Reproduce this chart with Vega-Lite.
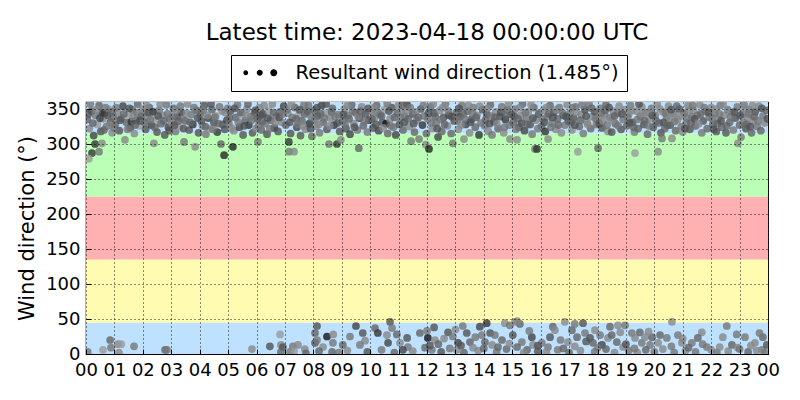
{
  "$schema": "https://vega.github.io/schema/vega-lite/v6.json",
  "width": 682,
  "height": 252,
  "autosize": {"type": "none"},
  "padding": {"left": 86, "top": 102, "right": 32, "bottom": 46},
  "background": "white",
  "title": {"text": "Latest time: 2023-04-18 00:00:00 UTC", "fontSize": 23, "font": "DejaVu Sans", "fontWeight": "normal", "anchor": "middle", "offset": 10, "color": "black"},
  "config": {
    "view": {"stroke": "black", "strokeWidth": 1.2},
    "font": "DejaVu Sans"
  },
  "layer": [
    {
      "data": {"values": [
        {"lo": 0, "hi": 45, "zone": "N1"},
        {"lo": 45, "hi": 135, "zone": "E"},
        {"lo": 135, "hi": 225, "zone": "S"},
        {"lo": 225, "hi": 315, "zone": "W"},
        {"lo": 315, "hi": 360, "zone": "N2"}
      ]},
      "mark": {"type": "rect"},
      "encoding": {
        "y": {"field": "lo", "type": "quantitative", "scale": {"domain": [0, 360], "nice": false}, "axis": {"values": [0, 50, 100, 150, 200, 250, 300, 350], "title": "Wind direction (°)", "labelPadding": 11, "titlePadding": 8, "labelOverlap": false, "labelFont": "DejaVu Sans", "labelFontSize": 18, "labelColor": "black", "titleFont": "DejaVu Sans", "titleFontSize": 21, "titleFontWeight": "normal", "titleColor": "black", "domain": false, "tickColor": "black", "tickSize": -5, "grid": true, "gridColor": "black", "gridDash": [1, 3], "gridOpacity": 0.9, "gridWidth": 1, "zindex": 1}},
        "y2": {"field": "hi"},
        "color": {"field": "zone", "type": "nominal", "scale": {"domain": ["N1", "E", "S", "W", "N2"], "range": ["#bee1ff", "#fffbb0", "#ffb0b0", "#bbffb6", "#bee1ff"]}, "legend": null}
      }
    },
    {
      "data": {"values": [
{"h":0.05,"d":335,"s":5},{"h":0.12,"d":322,"s":3},{"h":0.2,"d":347,"s":6},{"h":0.27,"d":312,"s":7},{"h":0.33,"d":341,"s":4},{"h":0.4,"d":328,"s":2},{"h":0.46,"d":355,"s":5},{"h":0.52,"d":318,"s":6},{"h":0.6,"d":336,"s":3},{"h":0.66,"d":344,"s":7},{"h":0.72,"d":325,"s":4},{"h":0.8,"d":350,"s":2},{"h":0.86,"d":331,"s":6},{"h":0.92,"d":316,"s":3},{"h":0.97,"d":339,"s":5},{"h":0.15,"d":357,"s":4},{"h":0.58,"d":345,"s":8},
{"h":0.21,"d":287,"s":8},{"h":0.46,"d":289,"s":4},{"h":0.1,"d":279,"s":2},{"h":0.32,"d":300,"s":8},{"h":0.56,"d":301,"s":3},
{"h":1.03,"d":328,"s":5},{"h":1.1,"d":346,"s":3},{"h":1.17,"d":319,"s":6},{"h":1.24,"d":337,"s":4},{"h":1.3,"d":354,"s":7},{"h":1.37,"d":306,"s":3},{"h":1.42,"d":331,"s":5},{"h":1.5,"d":342,"s":2},{"h":1.56,"d":323,"s":6},{"h":1.63,"d":349,"s":4},{"h":1.7,"d":315,"s":3},{"h":1.76,"d":334,"s":7},{"h":1.82,"d":357,"s":5},{"h":1.88,"d":326,"s":2},{"h":1.95,"d":340,"s":6},{"h":1.6,"d":332,"s":8},
{"h":2.04,"d":344,"s":4},{"h":2.1,"d":321,"s":6},{"h":2.17,"d":338,"s":3},{"h":2.23,"d":352,"s":5},{"h":2.3,"d":327,"s":7},{"h":2.39,"d":301,"s":3},{"h":2.45,"d":335,"s":2},{"h":2.5,"d":317,"s":6},{"h":2.57,"d":348,"s":4},{"h":2.64,"d":329,"s":5},{"h":2.7,"d":341,"s":3},{"h":2.77,"d":313,"s":6},{"h":2.83,"d":356,"s":4},{"h":2.9,"d":324,"s":7},{"h":2.96,"d":336,"s":5},{"h":2.35,"d":346,"s":8},
{"h":3.02,"d":330,"s":3},{"h":3.08,"d":351,"s":5},{"h":3.15,"d":318,"s":4},{"h":3.21,"d":339,"s":6},{"h":3.28,"d":325,"s":2},{"h":3.35,"d":345,"s":7},{"h":3.45,"d":303,"s":4},{"h":3.5,"d":333,"s":5},{"h":3.57,"d":357,"s":3},{"h":3.63,"d":320,"s":6},{"h":3.7,"d":342,"s":4},{"h":3.76,"d":328,"s":8},{"h":3.84,"d":296,"s":3},{"h":3.9,"d":348,"s":5},{"h":3.96,"d":316,"s":6},{"h":3.4,"d":336,"s":4},
{"h":4.03,"d":343,"s":5},{"h":4.1,"d":326,"s":3},{"h":4.16,"d":355,"s":6},{"h":4.22,"d":314,"s":4},{"h":4.3,"d":337,"s":7},{"h":4.36,"d":322,"s":2},{"h":4.43,"d":349,"s":5},{"h":4.5,"d":331,"s":6},{"h":4.56,"d":340,"s":3},{"h":4.62,"d":317,"s":8},{"h":4.7,"d":353,"s":4},{"h":4.75,"d":300,"s":5},{"h":4.82,"d":328,"s":6},{"h":4.86,"d":284,"s":9},{"h":4.9,"d":345,"s":3},{"h":4.96,"d":334,"s":7},{"h":4.46,"d":321,"s":4},
{"h":5.03,"d":329,"s":4},{"h":5.08,"d":347,"s":6},{"h":5.17,"d":296,"s":9},{"h":5.2,"d":319,"s":3},{"h":5.27,"d":338,"s":5},{"h":5.33,"d":356,"s":4},{"h":5.4,"d":324,"s":7},{"h":5.47,"d":342,"s":2},{"h":5.53,"d":313,"s":6},{"h":5.6,"d":333,"s":5},{"h":5.66,"d":350,"s":3},{"h":5.73,"d":327,"s":8},{"h":5.8,"d":339,"s":4},{"h":5.86,"d":316,"s":6},{"h":5.93,"d":345,"s":5},{"h":5.98,"d":322,"s":3},
{"h":6.03,"d":336,"s":6},{"h":6.05,"d":303,"s":4},{"h":6.1,"d":352,"s":3},{"h":6.17,"d":320,"s":5},{"h":6.23,"d":343,"s":7},{"h":6.3,"d":329,"s":4},{"h":6.37,"d":314,"s":6},{"h":6.43,"d":348,"s":2},{"h":6.5,"d":334,"s":5},{"h":6.56,"d":357,"s":3},{"h":6.63,"d":323,"s":8},{"h":6.7,"d":340,"s":4},{"h":6.76,"d":318,"s":6},{"h":6.83,"d":346,"s":5},{"h":6.9,"d":331,"s":3},{"h":6.96,"d":354,"s":7},
{"h":7.03,"d":327,"s":5},{"h":7.1,"d":344,"s":3},{"h":7.14,"d":289,"s":4},{"h":7.14,"d":303,"s":8},{"h":7.2,"d":315,"s":6},{"h":7.26,"d":338,"s":4},{"h":7.32,"d":289,"s":3},{"h":7.35,"d":352,"s":5},{"h":7.42,"d":324,"s":7},{"h":7.48,"d":341,"s":2},{"h":7.55,"d":312,"s":6},{"h":7.6,"d":333,"s":5},{"h":7.67,"d":356,"s":4},{"h":7.73,"d":321,"s":3},{"h":7.8,"d":347,"s":6},{"h":7.86,"d":329,"s":8},{"h":7.93,"d":338,"s":4},{"h":7.95,"d":311,"s":5},
{"h":8.03,"d":348,"s":5},{"h":8.1,"d":325,"s":3},{"h":8.16,"d":340,"s":6},{"h":8.22,"d":316,"s":4},{"h":8.29,"d":355,"s":7},{"h":8.35,"d":331,"s":5},{"h":8.42,"d":344,"s":2},{"h":8.48,"d":321,"s":6},{"h":8.55,"d":300,"s":4},{"h":8.6,"d":337,"s":3},{"h":8.67,"d":351,"s":5},{"h":8.73,"d":327,"s":8},{"h":8.83,"d":300,"s":8},{"h":8.88,"d":342,"s":4},{"h":8.93,"d":318,"s":6},{"h":8.97,"d":306,"s":3},
{"h":9.03,"d":333,"s":5},{"h":9.09,"d":350,"s":3},{"h":9.15,"d":322,"s":6},{"h":9.22,"d":341,"s":4},{"h":9.29,"d":314,"s":7},{"h":9.35,"d":356,"s":5},{"h":9.42,"d":329,"s":3},{"h":9.48,"d":345,"s":6},{"h":9.55,"d":320,"s":4},{"h":9.6,"d":294,"s":5},{"h":9.62,"d":337,"s":8},{"h":9.7,"d":353,"s":3},{"h":9.76,"d":326,"s":5},{"h":9.83,"d":343,"s":6},{"h":9.9,"d":317,"s":4},{"h":9.96,"d":334,"s":7},
{"h":10.03,"d":347,"s":4},{"h":10.1,"d":323,"s":6},{"h":10.16,"d":338,"s":3},{"h":10.23,"d":355,"s":5},{"h":10.3,"d":319,"s":7},{"h":10.36,"d":342,"s":4},{"h":10.43,"d":331,"s":6},{"h":10.5,"d":349,"s":2},{"h":10.56,"d":329,"s":10},{"h":10.62,"d":315,"s":5},{"h":10.7,"d":336,"s":3},{"h":10.76,"d":352,"s":6},{"h":10.82,"d":324,"s":4},{"h":10.9,"d":313,"s":7},{"h":10.95,"d":344,"s":5},{"h":10.6,"d":358,"s":4},
{"h":11.03,"d":328,"s":6},{"h":11.1,"d":346,"s":3},{"h":11.16,"d":320,"s":5},{"h":11.23,"d":339,"s":4},{"h":11.3,"d":356,"s":7},{"h":11.37,"d":325,"s":3},{"h":11.44,"d":304,"s":4},{"h":11.5,"d":343,"s":6},{"h":11.56,"d":317,"s":5},{"h":11.63,"d":334,"s":3},{"h":11.72,"d":307,"s":4},{"h":11.78,"d":350,"s":6},{"h":11.84,"d":327,"s":8},{"h":11.9,"d":340,"s":4},{"h":11.96,"d":299,"s":3},{"h":11.98,"d":315,"s":5},
{"h":12.03,"d":336,"s":4},{"h":12.07,"d":293,"s":9},{"h":12.12,"d":353,"s":5},{"h":12.18,"d":322,"s":3},{"h":12.25,"d":344,"s":6},{"h":12.32,"d":330,"s":4},{"h":12.39,"d":310,"s":7},{"h":12.45,"d":348,"s":3},{"h":12.52,"d":318,"s":5},{"h":12.58,"d":338,"s":6},{"h":12.65,"d":357,"s":4},{"h":12.72,"d":326,"s":3},{"h":12.78,"d":341,"s":7},{"h":12.85,"d":315,"s":5},{"h":12.91,"d":301,"s":4},{"h":12.96,"d":333,"s":6},
{"h":13.03,"d":345,"s":5},{"h":13.1,"d":321,"s":3},{"h":13.16,"d":339,"s":6},{"h":13.23,"d":355,"s":4},{"h":13.3,"d":307,"s":3},{"h":13.36,"d":328,"s":7},{"h":13.43,"d":347,"s":5},{"h":13.5,"d":316,"s":3},{"h":13.56,"d":335,"s":6},{"h":13.63,"d":352,"s":4},{"h":13.7,"d":324,"s":5},{"h":13.76,"d":341,"s":3},{"h":13.83,"d":313,"s":8},{"h":13.9,"d":330,"s":4},{"h":13.96,"d":349,"s":6},
{"h":14.03,"d":326,"s":4},{"h":14.1,"d":343,"s":6},{"h":14.16,"d":318,"s":3},{"h":14.23,"d":356,"s":5},{"h":14.29,"d":313,"s":4},{"h":14.36,"d":332,"s":7},{"h":14.42,"d":346,"s":3},{"h":14.5,"d":322,"s":5},{"h":14.56,"d":339,"s":6},{"h":14.63,"d":353,"s":4},{"h":14.7,"d":316,"s":3},{"h":14.76,"d":335,"s":8},{"h":14.83,"d":349,"s":5},{"h":14.9,"d":327,"s":4},{"h":14.92,"d":307,"s":3},{"h":14.97,"d":342,"s":6},
{"h":15.03,"d":331,"s":5},{"h":15.1,"d":350,"s":4},{"h":15.17,"d":306,"s":3},{"h":15.23,"d":324,"s":6},{"h":15.3,"d":341,"s":3},{"h":15.36,"d":357,"s":5},{"h":15.43,"d":319,"s":7},{"h":15.5,"d":337,"s":4},{"h":15.56,"d":346,"s":3},{"h":15.63,"d":328,"s":6},{"h":15.7,"d":314,"s":4},{"h":15.76,"d":352,"s":5},{"h":15.8,"d":293,"s":4},{"h":15.87,"d":293,"s":8},{"h":15.83,"d":334,"s":3},{"h":15.93,"d":343,"s":6},
{"h":16.03,"d":325,"s":5},{"h":16.1,"d":348,"s":3},{"h":16.16,"d":318,"s":8},{"h":16.23,"d":339,"s":4},{"h":16.26,"d":307,"s":3},{"h":16.33,"d":355,"s":5},{"h":16.4,"d":330,"s":4},{"h":16.46,"d":345,"s":6},{"h":16.53,"d":321,"s":3},{"h":16.6,"d":336,"s":5},{"h":16.66,"d":352,"s":4},{"h":16.73,"d":316,"s":3},{"h":16.8,"d":341,"s":6},{"h":16.86,"d":327,"s":4},{"h":16.93,"d":356,"s":3},{"h":16.97,"d":333,"s":5},
{"h":17.03,"d":344,"s":4},{"h":17.1,"d":320,"s":3},{"h":17.16,"d":337,"s":6},{"h":17.23,"d":353,"s":4},{"h":17.31,"d":289,"s":2},{"h":17.36,"d":325,"s":5},{"h":17.43,"d":342,"s":3},{"h":17.5,"d":315,"s":4},{"h":17.56,"d":349,"s":6},{"h":17.63,"d":331,"s":3},{"h":17.7,"d":357,"s":4},{"h":17.76,"d":322,"s":5},{"h":17.83,"d":339,"s":3},{"h":17.9,"d":346,"s":6},{"h":17.96,"d":328,"s":4},
{"h":18.02,"d":294,"s":5},{"h":18.03,"d":336,"s":3},{"h":18.1,"d":351,"s":4},{"h":18.16,"d":323,"s":6},{"h":18.23,"d":342,"s":3},{"h":18.3,"d":356,"s":5},{"h":18.37,"d":318,"s":3},{"h":18.44,"d":338,"s":4},{"h":18.5,"d":317,"s":6},{"h":18.56,"d":347,"s":3},{"h":18.63,"d":329,"s":5},{"h":18.7,"d":344,"s":4},{"h":18.76,"d":354,"s":3},{"h":18.83,"d":321,"s":6},{"h":18.9,"d":335,"s":4},{"h":18.96,"d":349,"s":3},
{"h":19.03,"d":326,"s":5},{"h":19.1,"d":343,"s":3},{"h":19.16,"d":355,"s":4},{"h":19.23,"d":331,"s":6},{"h":19.3,"d":317,"s":4},{"h":19.32,"d":287,"s":2},{"h":19.37,"d":347,"s":3},{"h":19.43,"d":322,"s":5},{"h":19.5,"d":339,"s":4},{"h":19.56,"d":353,"s":3},{"h":19.63,"d":328,"s":6},{"h":19.7,"d":345,"s":4},{"h":19.76,"d":314,"s":5},{"h":19.83,"d":336,"s":3},{"h":19.9,"d":351,"s":4},{"h":19.96,"d":324,"s":6},
{"h":20.03,"d":341,"s":4},{"h":20.1,"d":357,"s":3},{"h":20.13,"d":289,"s":3},{"h":20.17,"d":330,"s":5},{"h":20.23,"d":316,"s":6},{"h":20.27,"d":308,"s":4},{"h":20.3,"d":346,"s":3},{"h":20.37,"d":322,"s":5},{"h":20.43,"d":338,"s":4},{"h":20.5,"d":354,"s":3},{"h":20.56,"d":327,"s":6},{"h":20.62,"d":308,"s":3},{"h":20.68,"d":343,"s":4},{"h":20.75,"d":319,"s":5},{"h":20.82,"d":335,"s":3},{"h":20.88,"d":350,"s":6},{"h":20.95,"d":325,"s":4},
{"h":21.0,"d":317,"s":3},{"h":21.05,"d":344,"s":5},{"h":21.12,"d":330,"s":4},{"h":21.18,"d":355,"s":3},{"h":21.25,"d":321,"s":6},{"h":21.32,"d":339,"s":4},{"h":21.38,"d":348,"s":3},{"h":21.45,"d":326,"s":5},{"h":21.52,"d":341,"s":4},{"h":21.6,"d":356,"s":3},{"h":21.67,"d":316,"s":4},{"h":21.72,"d":333,"s":6},{"h":21.8,"d":347,"s":3},{"h":21.86,"d":322,"s":5},{"h":21.93,"d":338,"s":4},
{"h":22.0,"d":352,"s":3},{"h":22.06,"d":328,"s":5},{"h":22.12,"d":344,"s":4},{"h":22.18,"d":318,"s":6},{"h":22.25,"d":335,"s":3},{"h":22.32,"d":355,"s":4},{"h":22.38,"d":324,"s":5},{"h":22.45,"d":341,"s":3},{"h":22.52,"d":316,"s":6},{"h":22.58,"d":349,"s":4},{"h":22.65,"d":331,"s":5},{"h":22.72,"d":345,"s":3},{"h":22.78,"d":320,"s":4},{"h":22.85,"d":337,"s":6},{"h":22.94,"d":301,"s":3},{"h":22.92,"d":353,"s":4},
{"h":23.0,"d":327,"s":5},{"h":23.05,"d":310,"s":4},{"h":23.1,"d":343,"s":3},{"h":23.16,"d":356,"s":4},{"h":23.22,"d":322,"s":6},{"h":23.28,"d":338,"s":3},{"h":23.35,"d":349,"s":4},{"h":23.42,"d":316,"s":5},{"h":23.48,"d":333,"s":3},{"h":23.55,"d":346,"s":6},{"h":23.62,"d":325,"s":4},{"h":23.68,"d":354,"s":3},{"h":23.75,"d":319,"s":5},{"h":23.82,"d":340,"s":4},{"h":23.88,"d":330,"s":3},{"h":23.95,"d":348,"s":5},{"h":23.98,"d":336,"s":6},
{"h":0.08,"d":343,"s":6},{"h":0.24,"d":330,"s":5},{"h":0.37,"d":349,"s":3},{"h":0.49,"d":337,"s":7},{"h":0.63,"d":320,"s":5},{"h":0.69,"d":352,"s":4},{"h":0.76,"d":341,"s":6},{"h":0.83,"d":327,"s":3},{"h":0.9,"d":346,"s":5},{"h":0.99,"d":323,"s":4},
{"h":1.06,"d":352,"s":4},{"h":1.2,"d":334,"s":6},{"h":1.33,"d":343,"s":5},{"h":1.46,"d":321,"s":4},{"h":1.53,"d":351,"s":6},{"h":1.66,"d":339,"s":3},{"h":1.73,"d":327,"s":5},{"h":1.79,"d":345,"s":4},{"h":1.91,"d":333,"s":6},{"h":1.99,"d":350,"s":3},
{"h":2.07,"d":331,"s":5},{"h":2.14,"d":355,"s":3},{"h":2.2,"d":345,"s":6},{"h":2.27,"d":335,"s":4},{"h":2.42,"d":324,"s":5},{"h":2.54,"d":340,"s":6},{"h":2.61,"d":357,"s":3},{"h":2.74,"d":333,"s":5},{"h":2.87,"d":343,"s":4},{"h":2.93,"d":319,"s":6},
{"h":3.05,"d":340,"s":4},{"h":3.12,"d":327,"s":6},{"h":3.18,"d":348,"s":3},{"h":3.25,"d":333,"s":5},{"h":3.32,"d":354,"s":4},{"h":3.43,"d":322,"s":6},{"h":3.54,"d":344,"s":3},{"h":3.67,"d":331,"s":5},{"h":3.8,"d":352,"s":4},{"h":3.93,"d":337,"s":6},
{"h":4.06,"d":333,"s":6},{"h":4.13,"d":348,"s":4},{"h":4.2,"d":325,"s":5},{"h":4.27,"d":341,"s":3},{"h":4.4,"d":357,"s":6},{"h":4.53,"d":338,"s":4},{"h":4.66,"d":329,"s":5},{"h":4.79,"d":347,"s":3},{"h":4.88,"d":321,"s":6},{"h":4.99,"d":351,"s":4},
{"h":5.05,"d":337,"s":5},{"h":5.12,"d":323,"s":3},{"h":5.23,"d":351,"s":6},{"h":5.36,"d":331,"s":4},{"h":5.44,"d":345,"s":5},{"h":5.57,"d":326,"s":6},{"h":5.64,"d":341,"s":3},{"h":5.7,"d":357,"s":5},{"h":5.83,"d":334,"s":4},{"h":5.96,"d":348,"s":6},
{"h":6.07,"d":326,"s":4},{"h":6.14,"d":341,"s":6},{"h":6.2,"d":332,"s":5},{"h":6.27,"d":355,"s":3},{"h":6.4,"d":337,"s":6},{"h":6.47,"d":322,"s":4},{"h":6.6,"d":345,"s":5},{"h":6.66,"d":330,"s":3},{"h":6.8,"d":338,"s":6},{"h":6.93,"d":343,"s":4},
{"h":7.06,"d":349,"s":4},{"h":7.17,"d":331,"s":6},{"h":7.23,"d":357,"s":3},{"h":7.39,"d":336,"s":5},{"h":7.45,"d":328,"s":4},{"h":7.52,"d":349,"s":6},{"h":7.63,"d":326,"s":3},{"h":7.7,"d":343,"s":5},{"h":7.83,"d":355,"s":4},{"h":7.9,"d":322,"s":6},
{"h":8.06,"d":335,"s":4},{"h":8.13,"d":352,"s":6},{"h":8.19,"d":328,"s":3},{"h":8.26,"d":343,"s":5},{"h":8.39,"d":337,"s":4},{"h":8.45,"d":357,"s":6},{"h":8.58,"d":326,"s":3},{"h":8.64,"d":346,"s":5},{"h":8.77,"d":339,"s":4},{"h":8.85,"d":330,"s":6},
{"h":9.06,"d":342,"s":6},{"h":9.12,"d":327,"s":4},{"h":9.19,"d":355,"s":3},{"h":9.26,"d":336,"s":5},{"h":9.38,"d":347,"s":4},{"h":9.45,"d":324,"s":6},{"h":9.58,"d":339,"s":3},{"h":9.66,"d":347,"s":5},{"h":9.79,"d":333,"s":4},{"h":9.93,"d":351,"s":6},
{"h":10.06,"d":336,"s":5},{"h":10.13,"d":352,"s":3},{"h":10.2,"d":328,"s":6},{"h":10.27,"d":345,"s":4},{"h":10.4,"d":340,"s":5},{"h":10.46,"d":323,"s":3},{"h":10.66,"d":347,"s":6},{"h":10.73,"d":326,"s":4},{"h":10.86,"d":338,"s":5},{"h":10.99,"d":355,"s":3},
{"h":11.06,"d":338,"s":4},{"h":11.13,"d":355,"s":5},{"h":11.2,"d":331,"s":6},{"h":11.27,"d":347,"s":3},{"h":11.34,"d":336,"s":5},{"h":11.41,"d":352,"s":4},{"h":11.53,"d":329,"s":6},{"h":11.6,"d":346,"s":3},{"h":11.69,"d":338,"s":5},{"h":11.87,"d":355,"s":4},
{"h":12.05,"d":344,"s":6},{"h":12.15,"d":330,"s":4},{"h":12.22,"d":357,"s":3},{"h":12.29,"d":339,"s":5},{"h":12.36,"d":322,"s":6},{"h":12.49,"d":335,"s":4},{"h":12.55,"d":352,"s":3},{"h":12.62,"d":328,"s":5},{"h":12.75,"d":347,"s":4},{"h":12.88,"d":339,"s":6},
{"h":13.06,"d":333,"s":4},{"h":13.13,"d":351,"s":6},{"h":13.2,"d":327,"s":3},{"h":13.27,"d":343,"s":5},{"h":13.33,"d":336,"s":4},{"h":13.46,"d":355,"s":3},{"h":13.53,"d":331,"s":6},{"h":13.6,"d":344,"s":4},{"h":13.73,"d":338,"s":5},{"h":13.86,"d":354,"s":3},
{"h":14.06,"d":335,"s":5},{"h":14.13,"d":351,"s":3},{"h":14.2,"d":329,"s":6},{"h":14.26,"d":340,"s":4},{"h":14.39,"d":338,"s":5},{"h":14.46,"d":329,"s":3},{"h":14.6,"d":345,"s":6},{"h":14.73,"d":324,"s":4},{"h":14.8,"d":340,"s":5},{"h":14.87,"d":357,"s":3},
{"h":15.06,"d":340,"s":6},{"h":15.13,"d":321,"s":4},{"h":15.2,"d":336,"s":5},{"h":15.27,"d":352,"s":3},{"h":15.33,"d":330,"s":6},{"h":15.46,"d":345,"s":4},{"h":15.53,"d":328,"s":5},{"h":15.66,"d":356,"s":3},{"h":15.73,"d":337,"s":6},{"h":15.9,"d":322,"s":4},
{"h":16.06,"d":336,"s":4},{"h":16.13,"d":331,"s":6},{"h":16.2,"d":352,"s":3},{"h":16.29,"d":343,"s":5},{"h":16.36,"d":324,"s":4},{"h":16.43,"d":338,"s":6},{"h":16.56,"d":349,"s":3},{"h":16.63,"d":327,"s":5},{"h":16.76,"d":345,"s":4},{"h":16.9,"d":339,"s":6},
{"h":17.06,"d":331,"s":5},{"h":17.13,"d":352,"s":4},{"h":17.2,"d":327,"s":6},{"h":17.26,"d":345,"s":3},{"h":17.4,"d":334,"s":5},{"h":17.46,"d":356,"s":4},{"h":17.6,"d":340,"s":6},{"h":17.66,"d":328,"s":3},{"h":17.8,"d":351,"s":5},{"h":17.93,"d":336,"s":4},
{"h":18.06,"d":329,"s":6},{"h":18.13,"d":344,"s":4},{"h":18.2,"d":333,"s":3},{"h":18.27,"d":348,"s":5},{"h":18.34,"d":327,"s":4},{"h":18.41,"d":352,"s":6},{"h":18.53,"d":334,"s":3},{"h":18.6,"d":340,"s":5},{"h":18.73,"d":326,"s":4},{"h":18.86,"d":343,"s":6},
{"h":19.06,"d":338,"s":4},{"h":19.13,"d":330,"s":6},{"h":19.2,"d":348,"s":3},{"h":19.27,"d":324,"s":5},{"h":19.4,"d":335,"s":4},{"h":19.46,"d":357,"s":6},{"h":19.6,"d":343,"s":3},{"h":19.66,"d":333,"s":5},{"h":19.8,"d":326,"s":4},{"h":19.93,"d":341,"s":6},
{"h":20.06,"d":333,"s":5},{"h":20.2,"d":350,"s":3},{"h":20.33,"d":331,"s":6},{"h":20.4,"d":344,"s":4},{"h":20.46,"d":327,"s":5},{"h":20.53,"d":338,"s":3},{"h":20.59,"d":349,"s":6},{"h":20.72,"d":332,"s":4},{"h":20.79,"d":354,"s":5},{"h":20.92,"d":340,"s":3},
{"h":21.08,"d":322,"s":6},{"h":21.15,"d":337,"s":4},{"h":21.22,"d":348,"s":3},{"h":21.29,"d":330,"s":5},{"h":21.35,"d":355,"s":4},{"h":21.42,"d":336,"s":6},{"h":21.56,"d":329,"s":3},{"h":21.63,"d":343,"s":5},{"h":21.76,"d":352,"s":4},{"h":21.9,"d":345,"s":6},
{"h":22.03,"d":337,"s":4},{"h":22.09,"d":321,"s":6},{"h":22.15,"d":350,"s":3},{"h":22.22,"d":329,"s":5},{"h":22.29,"d":343,"s":4},{"h":22.35,"d":333,"s":6},{"h":22.42,"d":357,"s":3},{"h":22.55,"d":326,"s":5},{"h":22.68,"d":339,"s":4},{"h":22.82,"d":346,"s":6},
{"h":23.03,"d":341,"s":6},{"h":23.13,"d":331,"s":4},{"h":23.19,"d":349,"s":3},{"h":23.25,"d":328,"s":5},{"h":23.32,"d":343,"s":4},{"h":23.38,"d":325,"s":6},{"h":23.45,"d":355,"s":3},{"h":23.52,"d":339,"s":5},{"h":23.65,"d":333,"s":4},{"h":23.78,"d":351,"s":6},
{"h":0.06,"d":3,"s":4},{"h":0.6,"d":6,"s":2},{"h":0.85,"d":20,"s":5},{"h":0.88,"d":9,"s":4},{"h":1.12,"d":14,"s":3},{"h":1.24,"d":14,"s":2},{"h":1.16,"d":2,"s":3},{"h":1.69,"d":11,"s":4},{"h":2.78,"d":6,"s":5},{"h":2.85,"d":6,"s":4},{"h":5.84,"d":7,"s":3},{"h":6.47,"d":11,"s":6},{"h":6.83,"d":28,"s":2},{"h":6.86,"d":13,"s":3},{"h":6.93,"d":10,"s":6},{"h":6.86,"d":3,"s":5},{"h":7.28,"d":11,"s":4},{"h":7.46,"d":13,"s":3},{"h":7.18,"d":3,"s":4},{"h":7.32,"d":4,"s":2},{"h":7.7,"d":7,"s":3},{"h":7.74,"d":1,"s":5},{"h":8.06,"d":30,"s":5},{"h":8.06,"d":16,"s":6},
{"h":8.13,"d":40,"s":6},{"h":8.13,"d":20,"s":4},{"h":8.34,"d":10,"s":3},{"h":8.48,"d":25,"s":10},{"h":8.69,"d":16,"s":4},{"h":8.66,"d":3,"s":5},{"h":8.7,"d":28,"s":3},{"h":9.5,"d":40,"s":7},{"h":9.29,"d":25,"s":4},{"h":9.04,"d":13,"s":5},{"h":9.74,"d":30,"s":6},{"h":9.82,"d":19,"s":3},{"h":9.64,"d":13,"s":4},{"h":10.17,"d":37,"s":5},{"h":10.27,"d":30,"s":8},{"h":10.59,"d":27,"s":3},{"h":10.7,"d":46,"s":6},{"h":10.77,"d":37,"s":4},{"h":10.63,"d":16,"s":7},{"h":10.94,"d":28,"s":5},{"h":11.05,"d":16,"s":3},{"h":11.3,"d":23,"s":6},{"h":11.33,"d":10,"s":4},{"h":11.15,"d":6,"s":7},{"h":11.75,"d":30,"s":5},{"h":12.03,"d":23,"s":10},{"h":12.0,"d":33,"s":4},{"h":12.25,"d":38,"s":6},{"h":12.28,"d":20,"s":3},{"h":11.93,"d":9,"s":5},{"h":12.17,"d":6,"s":4},{"h":12.74,"d":31,"s":6},{"h":12.91,"d":25,"s":4},{"h":13.09,"d":16,"s":7},{"h":13.05,"d":6,"s":3},{"h":13.26,"d":40,"s":4},{"h":13.4,"d":30,"s":6},{"h":13.51,"d":17,"s":5},{"h":13.62,"d":9,"s":3},{"h":13.86,"d":39,"s":7},{"h":13.93,"d":27,"s":4},{"h":14.1,"d":44,"s":8},{"h":14.04,"d":17,"s":5},{"h":14.29,"d":13,"s":3},{"h":14.22,"d":30,"s":6},{"h":14.39,"d":27,"s":4},{"h":14.64,"d":20,"s":5},{"h":14.74,"d":44,"s":3},{"h":14.92,"d":41,"s":4},{"h":15.1,"d":46,"s":3},{"h":15.27,"d":43,"s":5},{"h":15.17,"d":47,"s":3},{"h":15.02,"d":27,"s":6},{"h":15.34,"d":17,"s":4},{"h":15.17,"d":10,"s":5},{"h":15.69,"d":24,"s":7},{"h":15.73,"d":13,"s":3},{"h":15.52,"d":6,"s":5},
{"h":16.04,"d":16,"s":4},{"h":16.33,"d":24,"s":6},{"h":16.43,"d":39,"s":5},{"h":16.5,"d":34,"s":3},{"h":16.26,"d":10,"s":4},{"h":16.85,"d":46,"s":3},{"h":17.1,"d":34,"s":5},{"h":17.2,"d":43,"s":4},{"h":17.49,"d":44,"s":6},{"h":16.96,"d":17,"s":3},{"h":17.28,"d":24,"s":5},{"h":17.56,"d":30,"s":4},{"h":17.74,"d":23,"s":6},{"h":17.91,"d":34,"s":3},{"h":17.84,"d":16,"s":5},{"h":18.09,"d":27,"s":4},{"h":18.16,"d":13,"s":7},{"h":18.37,"d":23,"s":3},{"h":18.44,"d":39,"s":5},{"h":18.72,"d":41,"s":3},{"h":18.97,"d":41,"s":4},{"h":18.68,"d":17,"s":5},{"h":18.9,"d":10,"s":3},{"h":19.21,"d":30,"s":4},{"h":19.32,"d":23,"s":3},{"h":19.49,"d":31,"s":5},{"h":19.56,"d":16,"s":4},{"h":19.67,"d":24,"s":3},{"h":19.92,"d":24,"s":5},{"h":19.85,"d":13,"s":4},{"h":20.13,"d":16,"s":3},{"h":20.44,"d":23,"s":4},{"h":20.62,"d":46,"s":3},{"h":20.83,"d":27,"s":4},{"h":20.97,"d":16,"s":3},{"h":21.32,"d":16,"s":4},{"h":21.67,"d":31,"s":3},{"h":21.53,"d":23,"s":5},{"h":21.85,"d":10,"s":4},{"h":22.41,"d":24,"s":3},{"h":22.55,"d":40,"s":4},{"h":22.73,"d":13,"s":5},{"h":22.94,"d":9,"s":3},{"h":23.19,"d":24,"s":4},{"h":23.54,"d":16,"s":3},{"h":23.82,"d":24,"s":5},{"h":23.79,"d":6,"s":4},{"h":23.96,"d":13,"s":6},
{"h":8.2,"d":4,"s":5},{"h":8.9,"d":2,"s":4},{"h":9.2,"d":5,"s":3},{"h":9.9,"d":3,"s":6},{"h":10.4,"d":6,"s":4},{"h":10.85,"d":2,"s":5},{"h":11.5,"d":4,"s":3},{"h":12.5,"d":3,"s":6},{"h":12.8,"d":8,"s":4},{"h":13.3,"d":2,"s":5},{"h":13.8,"d":5,"s":3},{"h":14.45,"d":3,"s":4},{"h":14.8,"d":7,"s":5},{"h":15.4,"d":2,"s":3},{"h":15.9,"d":4,"s":6},{"h":16.2,"d":3,"s":3},{"h":16.6,"d":6,"s":4},{"h":17.0,"d":2,"s":5},{"h":17.4,"d":5,"s":3},{"h":17.9,"d":3,"s":4},{"h":18.3,"d":7,"s":5},{"h":18.6,"d":2,"s":3},{"h":19.1,"d":5,"s":4},{"h":19.4,"d":2,"s":3},{"h":19.7,"d":6,"s":5},{"h":20.0,"d":3,"s":4},{"h":20.3,"d":7,"s":3},{"h":20.7,"d":2,"s":4},{"h":21.1,"d":5,"s":3},{"h":21.45,"d":3,"s":4},{"h":22.0,"d":6,"s":3},{"h":22.2,"d":2,"s":4},{"h":22.6,"d":4,"s":3},{"h":23.0,"d":7,"s":4},{"h":23.3,"d":3,"s":5},{"h":23.6,"d":5,"s":3},{"h":23.9,"d":2,"s":4},
{"h":12.4,"d":14,"s":5},{"h":12.6,"d":22,"s":3},{"h":13.2,"d":12,"s":6},{"h":13.7,"d":24,"s":4},{"h":14.5,"d":10,"s":5},{"h":14.9,"d":15,"s":3},{"h":15.6,"d":33,"s":4},{"h":15.9,"d":12,"s":6},{"h":16.7,"d":20,"s":4},{"h":16.8,"d":8,"s":5},{"h":17.2,"d":11,"s":3},{"h":17.6,"d":18,"s":6},{"h":18.0,"d":9,"s":4},{"h":18.5,"d":27,"s":5},{"h":18.8,"d":31,"s":3},{"h":19.0,"d":14,"s":6},{"h":19.3,"d":8,"s":4},{"h":19.8,"d":32,"s":3},{"h":20.2,"d":27,"s":5},{"h":20.6,"d":11,"s":4},{"h":21.0,"d":22,"s":3},{"h":21.2,"d":9,"s":5},{"h":21.7,"d":14,"s":4},{"h":22.3,"d":10,"s":3},{"h":22.9,"d":28,"s":4},{"h":23.4,"d":12,"s":3},{"h":23.7,"d":30,"s":4},{"h":12.1,"d":12,"s":6},{"h":13.0,"d":35,"s":3},{"h":14.0,"d":8,"s":5}
      ]},
      "mark": {"type": "point", "filled": true, "clip": true, "size": 60, "opacity": 0.78, "strokeWidth": 0},
      "encoding": {
        "x": {"field": "h", "type": "quantitative", "scale": {"domain": [0, 24], "nice": false}, "axis": {"values": [0,1,2,3,4,5,6,7,8,9,10,11,12,13,14,15,16,17,18,19,20,21,22,23,24], "title": null, "labelPadding": 12, "labelFlush": false, "labelOverlap": false, "labelExpr": "datum.value == 24 ? '00' : (datum.value < 10 ? '0' + datum.value : '' + datum.value)", "labelFont": "DejaVu Sans", "labelFontSize": 18, "labelColor": "black", "domain": false, "tickColor": "black", "tickSize": -5, "grid": true, "gridColor": "black", "gridDash": [1, 3], "gridOpacity": 0.9, "gridWidth": 1, "zindex": 1}},
        "y": {"field": "d", "type": "quantitative", "axis": {"values": [0, 50, 100, 150, 200, 250, 300, 350], "title": "Wind direction (°)", "labelPadding": 11, "titlePadding": 8, "labelOverlap": false, "labelFont": "DejaVu Sans", "labelFontSize": 18, "labelColor": "black", "titleFont": "DejaVu Sans", "titleFontSize": 21, "titleFontWeight": "normal", "titleColor": "black", "domain": false, "tickColor": "black", "tickSize": -5, "grid": true, "gridColor": "black", "gridDash": [1, 3], "gridOpacity": 0.9, "gridWidth": 1, "zindex": 1}},
        "color": {"field": "s", "type": "quantitative", "scale": {"domain": [1, 10], "range": ["#ababab", "#111111"]}, "legend": null}
      }
    },
    {
      "data": {"values": [{"label": "Resultant wind direction (1.485°)"}]},
      "mark": {"type": "point", "filled": true, "size": 0, "color": "black", "opacity": 1},
      "encoding": {
        "shape": {"field": "label", "type": "nominal", "scale": {"range": ["M-0.675,0A0.3,0.3,0,1,1,-0.075,0A0.3,0.3,0,1,1,-0.675,0ZM1.0,0A0.375,0.375,0,1,1,1.75,0A0.375,0.375,0,1,1,1.0,0ZM2.685,0A0.44,0.44,0,1,1,3.565,0A0.44,0.44,0,1,1,2.685,0Z"]},
          "legend": {"title": null, "orient": "none", "legendX": 145, "legendY": -47, "symbolSize": 256, "symbolFillColor": "black", "symbolStrokeWidth": 0, "symbolOpacity": 1, "labelFontSize": 19.5, "labelFont": "DejaVu Sans", "labelColor": "black", "strokeColor": "black", "fillColor": "white", "padding": 8, "labelOffset": 37, "labelLimit": 500}}
      }
    }
  ]
}
